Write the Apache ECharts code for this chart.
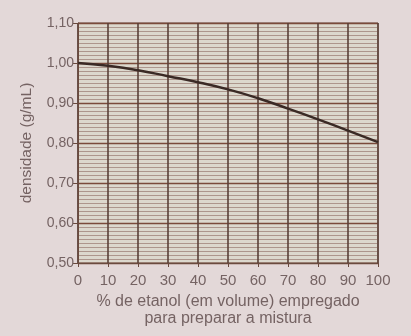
<!DOCTYPE html>
<html>
<head>
<meta charset="utf-8">
<script src="https://cdn.jsdelivr.net/npm/echarts@6/dist/echarts.min.js"></script>
<style>
html,body{margin:0;padding:0;background:#e3d8d8;}
#c{width:411px;height:336px;}
</style>
</head>
<body>
<div id="c"></div>
<script>
const categories = [0, 10, 20, 30, 40, 50, 60, 70, 80, 90, 100];
const densidade = [1.00, 0.993, 0.982, 0.967, 0.952, 0.934, 0.912, 0.886, 0.859, 0.831, 0.802];
const yTicks = [0.5, 0.6, 0.7, 0.8, 0.9, 1.0, 1.1];

const chart = echarts.init(document.getElementById('c'), null, {renderer: 'canvas'});
const labelColor = '#756363';
chart.setOption({
  animation: false,
  backgroundColor: '#e3d8d8',
  grid: {left: 78, right: 33, top: 23, bottom: 73, show: true, backgroundColor: '#dcd8cd', borderColor: '#6a4a3e', borderWidth: 1},
  xAxis: {
    type: 'value', min: 0, max: 100, interval: 10,
    name: '% de etanol (em volume) empregado\npara preparar a mistura',
    nameLocation: 'middle', nameGap: 28,
    nameTextStyle: {color: labelColor, fontSize: 16, fontFamily: 'Liberation Sans', lineHeight: 17},
    axisLine: {show: true, lineStyle: {color: '#6a4a3e', width: 1}},
    axisTick: {show: true, length: 4, lineStyle: {color: '#6a4a3e'}},
    axisLabel: {color: labelColor, fontSize: 15, fontFamily: 'Liberation Sans', margin: 10},
    splitLine: {show: true, lineStyle: {color: '#5a4038', width: 1.6}}
  },
  yAxis: {
    type: 'value', min: yTicks[0], max: yTicks[yTicks.length - 1], interval: 0.1,
    name: 'densidade (g/mL)', nameLocation: 'middle', nameGap: 43, nameRotate: 90,
    nameTextStyle: {color: labelColor, fontSize: 15.5, fontFamily: 'Liberation Sans'},
    axisLine: {show: true, lineStyle: {color: '#6a4a3e', width: 1}},
    axisTick: {show: true, length: 5, lineStyle: {color: '#6a4a3e'}},
    axisLabel: {color: labelColor, fontSize: 14, fontFamily: 'Liberation Sans', margin: 4,
      formatter: v => v.toFixed(2).replace('.', ',')},
    splitLine: {show: true, lineStyle: {color: '#7a4a3a', width: 1.3}},
    minorTick: {show: false, splitNumber: 10},
    minorSplitLine: {show: true, lineStyle: {color: '#ad968c', width: 1}}
  },
  series: [{
    type: 'line', smooth: true, symbol: 'none',
    data: categories.map((x, i) => [x, densidade[i]]),
    lineStyle: {color: '#3a2a25', width: 2.5}
  }]
});
</script>
</body>
</html>
